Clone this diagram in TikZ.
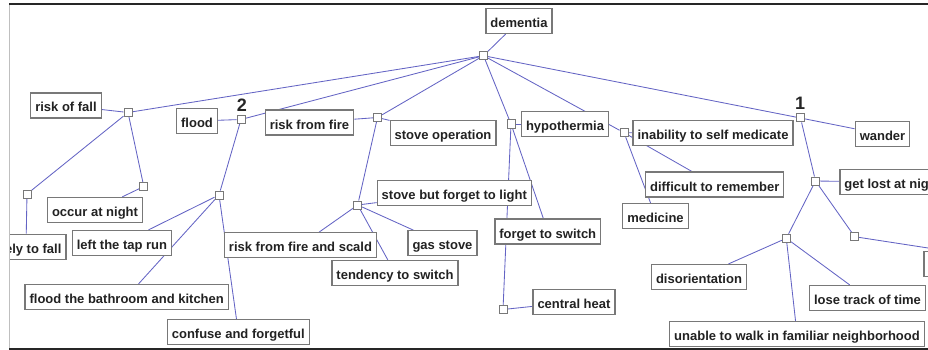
\documentclass[tikz,border=0pt]{standalone}
\usepackage{fontspec}
\setmainfont{Liberation Sans}
\usepackage{xcolor}
\usepackage{tikz}
\usetikzlibrary{backgrounds}

\definecolor{linkblue}{RGB}{100,100,196}
\definecolor{boxgray}{RGB}{120,120,120}
\definecolor{txtgray}{RGB}{34,34,34}

\begin{document}
\begin{tikzpicture}[x=1pt, y=-1pt,
        box/.style={rectangle, draw=boxgray, line width=1.2pt, fill=white, minimum height=25pt, inner xsep=4.5pt, inner ysep=3pt, text height=13pt, text depth=0pt, font=\fontsize{13}{15}\selectfont\bfseries, text=txtgray},
        hub/.style={rectangle, draw=boxgray, line width=1pt, fill=white, minimum size=8pt, inner sep=0pt},
        link/.style={draw=linkblue, line width=0.85pt},
        num/.style={font=\fontsize{18}{20}\selectfont\bfseries, text=black!85, inner sep=0pt, anchor=base},
    ]
    \useasboundingbox (0,0) rectangle (928,350);
    \begin{scope}
    \clip (9.5,4) rectangle (928,349);
    \node[box] (dementia) at (519,21) {dementia};
    \node[hub] (root) at (483.5,55.7) {};
    \node[box] (riskfall) at (66,105.5) {risk of fall};
    \node[hub] (sfall) at (128,112.5) {};
    \node[box] (flood) at (197,121) {flood};
    \node[hub] (sflood) at (241,119.5) {};
    \node[num] (two) at (242,111) {2};
    \node[box] (riskfire) at (309.5,122.5) {risk from fire};
    \node[hub] (sfire) at (377.5,117.5) {};
    \node[box] (stoveop) at (443,133.3) {stove operation};
    \node[hub] (shypo) at (511,124) {};
    \node[box] (hypo) at (565,124) {hypothermia};
    \node[hub] (smed) at (624,132.7) {};
    \node[box] (inability) at (713,133) {inability to self medicate};
    \node[hub] (swander) at (800.5,118) {};
    \node[num] (one) at (800,110) {1};
    \node[box] (wander) at (882.5,134.3) {wander};
    \node[hub] (slikely) at (27,194) {};
    \node[box, anchor=east] (likely) at (66.5,246.8) {likely to fall};
    \node[hub] (snight) at (143.8,186.5) {};
    \node[box] (occur) at (95,210) {occur at night};
    \node[hub] (sleak) at (219,195) {};
    \node[box] (tap) at (122,243) {left the tap run};
    \node[box] (bath) at (126.7,297) {flood the bathroom and kitchen};
    \node[box] (confuse) at (238.3,332) {confuse and forgetful};
    \node[hub] (sstove) at (357.7,205) {};
    \node[box] (light) at (454.3,192.8) {stove but forget to light};
    \node[box] (scald) at (300.5,245.2) {risk from fire and scald};
    \node[box] (gas) at (442.5,243.3) {gas stove};
    \node[box] (tendency) at (395,273) {tendency to switch};
    \node[box] (fswitch) at (547.8,231.5) {forget to switch};
    \node[hub] (sheat) at (503,309.5) {};
    \node[box] (heat) at (574,302) {central heat};
    \node[box] (remember) at (714.7,184.5) {difficult to remember};
    \node[box] (medicine) at (655.5,216) {medicine};
    \node[hub] (slost) at (815.5,181) {};
    \node[box, anchor=west] (getlost) at (839.3,182) {get lost at night};
    \node[hub] (sdisor) at (786.3,238.3) {};
    \node[hub] (sright) at (854.7,236.7) {};
    \node[box, anchor=west, minimum width=219pt] (rightbox) at (923.3,264.2) {};
    \node[box] (disorient) at (699,277) {disorientation};
    \node[box] (losetrack) at (867.5,298) {lose track of time};
    \node[box] (unable) at (797,334) {unable to walk in familiar neighborhood};
    \end{scope}
    \begin{scope}[on background layer]
    \draw[link] (root)--(dementia); \draw[link] (root)--(sfall); \draw[link] (root)--(sflood);
    \draw[link] (root)--(sfire); \draw[link] (root)--(shypo); \draw[link] (root)--(smed);
    \draw[link] (root)--(swander);
    \draw[link] (sfall)--(riskfall); \draw[link] (sfall)--(slikely); \draw[link] (sfall)--(snight);
    \draw[link] (slikely)--(likely); \draw[link] (snight)--(occur);
    \draw[link] (sflood)--(flood); \draw[link] (sflood)--(sleak);
    \draw[link] (sleak)--(tap); \draw[link] (sleak)--(bath); \draw[link] (sleak)--(confuse);
    \draw[link] (sfire)--(riskfire); \draw[link] (sfire)--(stoveop); \draw[link] (sfire)--(sstove);
    \draw[link] (sstove)--(light); \draw[link] (sstove)--(scald);
    \draw[link] (sstove)--(gas); \draw[link] (sstove)--(tendency);
    \draw[link] (shypo)--(hypo); \draw[link] (shypo)--(fswitch); \draw[link] (shypo)--(sheat);
    \draw[link] (sheat)--(heat);
    \draw[link] (smed)--(inability); \draw[link] (smed)--(remember); \draw[link] (smed)--(medicine);
    \draw[link] (swander)--(wander); \draw[link] (swander)--(slost);
    \draw[link] (slost)--(getlost); \draw[link] (slost)--(sdisor); \draw[link] (slost)--(sright);
    \draw[link] (sright)--(rightbox);
    \draw[link] (sdisor)--(disorient); \draw[link] (sdisor)--(losetrack); \draw[link] (sdisor)--(unable);
    \end{scope}
    \draw[black!25, line width=0.8pt] (9,4)--(9,349);
    \draw[black!85, line width=1.4pt] (9,4)--(928,4);
    \draw[black!85, line width=1.4pt] (9,349)--(928,349);
\end{tikzpicture}
\end{document}
